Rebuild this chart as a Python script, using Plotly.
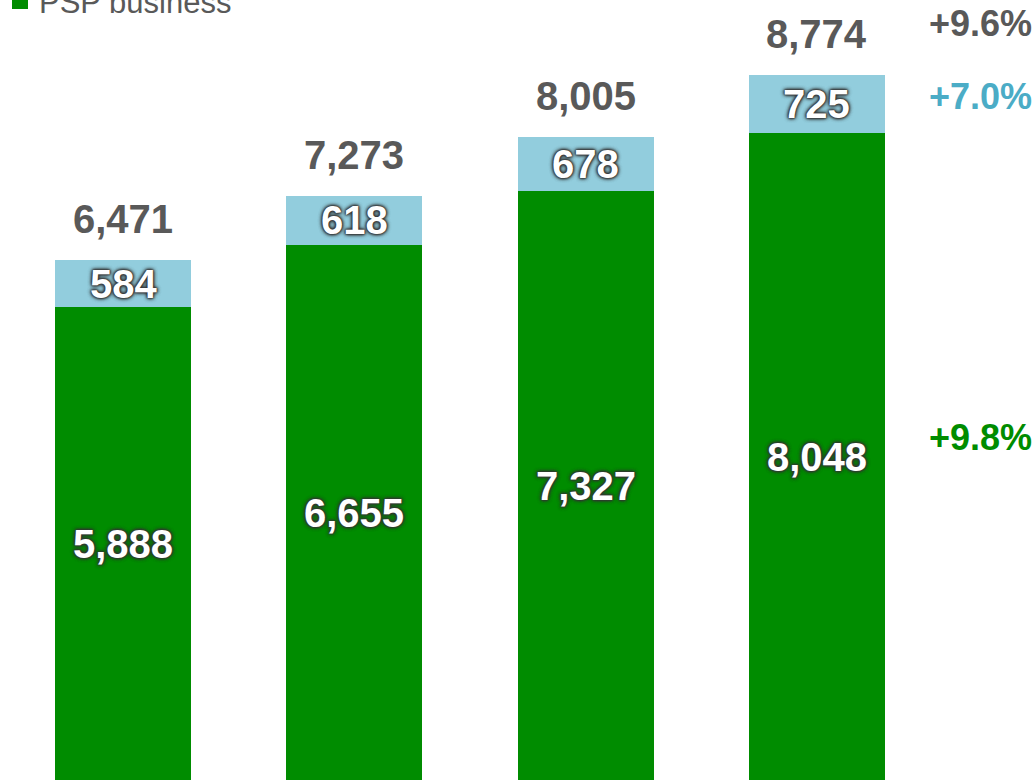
import plotly.graph_objects as go

# Fiscal periods (category labels are not drawn on the cropped axis)
periods = ["P1", "P2", "P3", "P4"]
psp_business = [5888, 6655, 7327, 8048]
other_business = [584, 618, 678, 725]
totals = [6471, 7273, 8005, 8774]
growth_total = "+9.6%"
growth_other = "+7.0%"
growth_psp = "+9.8%"

GREEN = "#008C00"
BLUE = "#92CDDD"
GRAY = "#595959"
TEAL = "#4BACC6"
FONT = "Liberation Sans, Arial, sans-serif"
GLOW = ("0px 0px 4px #333333, 0px 0px 4px #333333, 0px 0px 3px #333333, "
        "0px 0px 2px #333333, 0px 0px 1px #333333")

x = list(range(len(periods)))

fig = go.Figure()
fig.add_trace(go.Bar(x=x, y=psp_business, name="PSP business",
                     marker=dict(color=GREEN, line=dict(width=0)), width=0.588))
fig.add_trace(go.Bar(x=x, y=other_business, name="Other",
                     marker=dict(color=BLUE, line=dict(width=0)), width=0.588))

ann = []
for i in x:
    # segment labels
    ann.append(dict(x=i, y=psp_business[i] / 2, text=f"{psp_business[i]:,}",
                    showarrow=False, xanchor="center", yanchor="middle",
                    font=dict(family=FONT, size=40, color="white", weight="bold", shadow=GLOW)))
    ann.append(dict(x=i, y=psp_business[i] + other_business[i] / 2, text=f"{other_business[i]:,}",
                    showarrow=False, xanchor="center", yanchor="middle",
                    font=dict(family=FONT, size=40, color="white", weight="bold", shadow=GLOW)))
    # totals
    ann.append(dict(x=i, y=totals[i], text=f"{totals[i]:,}", showarrow=False,
                    xanchor="center", yanchor="middle", yshift=41,
                    font=dict(family=FONT, size=40, color=GRAY, weight="bold")))

last = len(x) - 1
ann.append(dict(x=0.946, xref="paper", y=totals[last], text=growth_total, showarrow=False,
                xanchor="center", yanchor="middle", yshift=51,
                font=dict(family=FONT, size=36, color=GRAY, weight="bold")))
ann.append(dict(x=0.946, xref="paper", y=psp_business[last] + other_business[last] / 2,
                text=growth_other, showarrow=False, xanchor="center", yanchor="middle", yshift=7,
                font=dict(family=FONT, size=36, color=TEAL, weight="bold")))
ann.append(dict(x=0.946, xref="paper", y=psp_business[last] / 2, text=growth_psp,
                showarrow=False, xanchor="center", yanchor="middle", yshift=20,
                font=dict(family=FONT, size=36, color=GREEN, weight="bold")))

# legend entry for the green series
ann.append(dict(x=37 / 1036, xref="paper", y=1, yref="paper", text="PSP business",
                showarrow=False, xanchor="left", yanchor="middle", yshift=-2,
                font=dict(family=FONT, size=31, color=GRAY)))

fig.update_layout(
    barmode="stack",
    width=1036, height=780,
    margin=dict(l=0, r=0, t=0, b=0),
    paper_bgcolor="white", plot_bgcolor="white",
    showlegend=False,
    xaxis=dict(range=[-0.532, 3.947], visible=False),
    yaxis=dict(range=[12.4, 9702], visible=False),
    annotations=ann,
    shapes=[dict(type="rect", xref="paper", yref="paper",
                 x0=12 / 1036, x1=28 / 1036, y0=1 - 9 / 780, y1=1.02,
                 fillcolor=GREEN, line=dict(width=0))],
)

fig.write_html("out.html")
